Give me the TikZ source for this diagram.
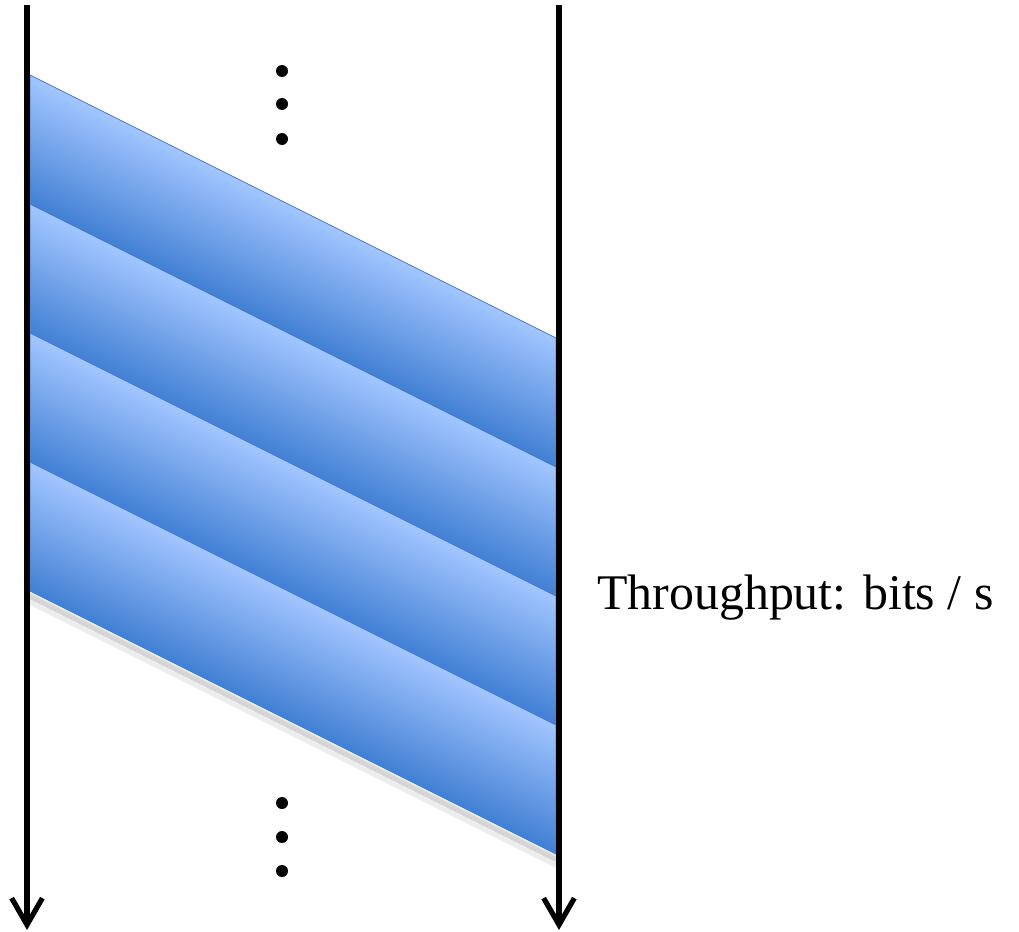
\documentclass[tikz,border=0pt]{standalone}
\usepackage{fontspec}
\setmainfont{Liberation Serif}
\usetikzlibrary{arrows.meta}

\definecolor{bandlight}{RGB}{162,198,255}
\definecolor{banddark}{RGB}{66,128,212}
\definecolor{bandedge}{RGB}{72,122,198}

\begin{document}
\begin{tikzpicture}[
  x=0.75pt, y=-0.75pt,
  timeline/.style={line width=3.9pt, -{Straight Barb[length=20pt, width=23pt]}},
  dot/.style={circle, fill=black, inner sep=0pt, minimum size=9pt},
  bandshade/.style={top color=bandlight, middle color=bandlight!80!banddark, bottom color=banddark},
  band/.style={draw=bandedge, line width=0.6pt,
    path picture={\begin{scope}[transform canvas={shift={(30,#1)}, rotate=-26.565}]
      \shade[bandshade] (-300,0) rectangle (900,115.4);
    \end{scope}}},
  ratelabel/.style={font=\fontsize{37.4}{42}\selectfont, inner sep=0pt, anchor=base west}
]
\useasboundingbox (0,0) rectangle (1019,931);

% sender and receiver
\coordinate (sendtop) at (27,5);
\coordinate (sendend) at (27,930);
\coordinate (recvtop) at (559,5);
\coordinate (recvend) at (559,930);

% shadow under the last packet
\fill[black, opacity=0.07] (30,594) -- (556,857) -- (556,868) -- (30,605) -- cycle;
\fill[black, opacity=0.10] (30,592) -- (556,855) -- (556,862) -- (30,599) -- cycle;

% packets in flight
\draw[band=75]  (30,75)  -- (556,338) -- (556,467) -- (30,204) -- cycle;
\draw[band=204] (30,204) -- (556,467) -- (556,596) -- (30,333) -- cycle;
\draw[band=333] (30,333) -- (556,596) -- (556,725) -- (30,462) -- cycle;
\draw[band=462] (30,462) -- (556,725) -- (556,854) -- (30,591) -- cycle;

\draw[timeline] (sendtop) -- (sendend);
\draw[timeline] (recvtop) -- (recvend);

\node[dot] (top1) at (282,71)  {};
\node[dot] (top2) at (282,104) {};
\node[dot] (top3) at (282,139) {};
\node[dot] (bot1) at (282,803) {};
\node[dot] (bot2) at (282,837) {};
\node[dot] (bot3) at (282,871) {};

\node[ratelabel] (rate) at (597,609) {Throughput: bits / s};
\end{tikzpicture}
\end{document}
